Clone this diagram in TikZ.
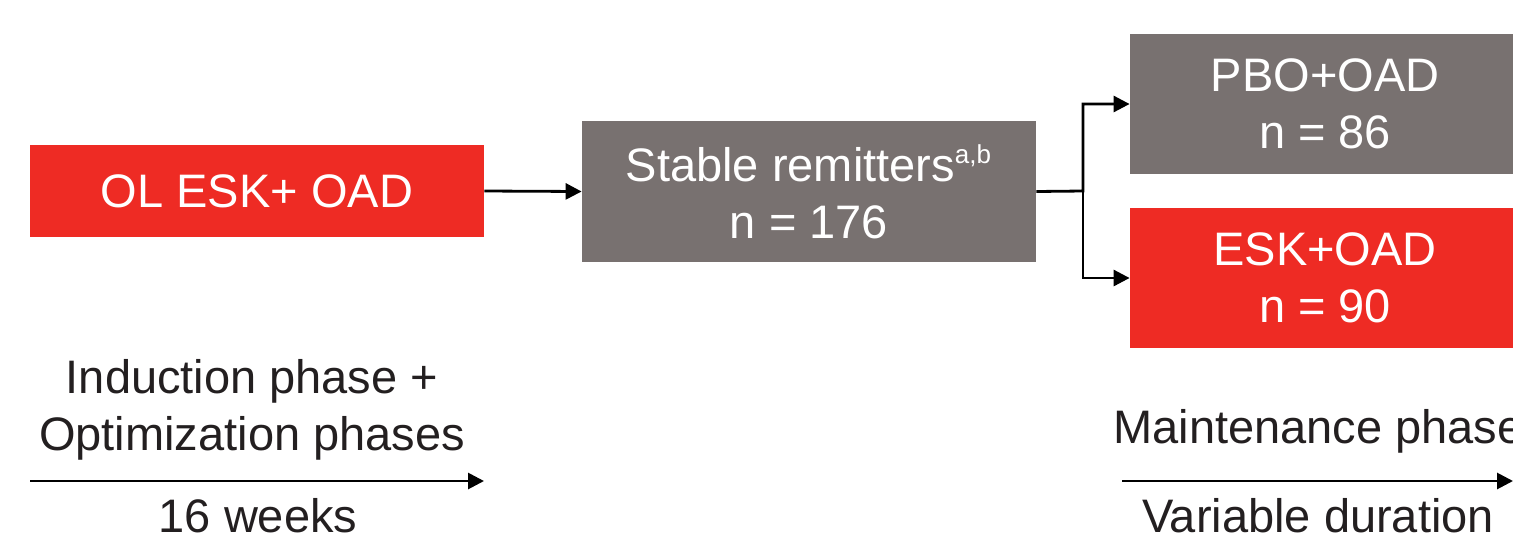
\documentclass[tikz,border=0pt]{standalone}
\usepackage{fontspec}
\setmainfont{Liberation Sans}
\usetikzlibrary{arrows.meta}
\definecolor{boxred}{HTML}{EE2B24}
\definecolor{boxgray}{HTML}{787170}
\definecolor{txt}{HTML}{231F20}
\tikzset{
  box/.style={rectangle, inner sep=0pt, align=center, text=white,
    font=\fontsize{23.5}{28.5}\selectfont},
  redbox/.style={box, fill=boxred},
  graybox/.style={box, fill=boxgray},
  conn/.style={line width=1.4pt, black, -{Triangle[length=8pt,width=8pt]}},
  lbl/.style={inner sep=0pt, align=center, text=txt,
    font=\fontsize{23.5}{28.5}\selectfont},
}
\begin{document}
\begin{tikzpicture}[x=0.5pt,y=-0.5pt]
\useasboundingbox (0,0) rectangle (1513,542);
\clip (0,0) rectangle (1513,542);
\node[redbox, minimum width=227pt, minimum height=46pt] (ol) at (257,191) {OL ESK+ OAD};
\node[graybox, minimum width=227pt, minimum height=70.5pt] (sr) at (809,191.5)
  {Stable remitters\textsuperscript{\fontsize{13}{13}\selectfont a,b}\\n = 176};
\node[graybox, minimum width=195pt, minimum height=70pt] (pbo) at (1325,104) {PBO+OAD\\n = 86};
\node[redbox, minimum width=195pt, minimum height=70pt] (esk) at (1325,278) {ESK+OAD\\n = 90};
\draw[conn] (ol.east) -- (sr.west);
\coordinate (br) at (1083,191);
\draw[conn] (sr.east) -- (br) |- (pbo.west);
\draw[conn] (br) |- (esk.west);
% bottom left
\node[lbl] (ind) at (252,410) {Induction phase +\\Optimization phases};
\coordinate (la) at (30,481);
\coordinate (lb) at (484,481);
\draw[conn] (la) -- (lb);
\node[lbl] (wk) at (258,516) {16 weeks};
% bottom right
\node[lbl, anchor=base west] (mp) at (1113,443) {Maintenance phase};
\coordinate (ra) at (1122,481);
\coordinate (rb) at (1513,481);
\draw[conn] (ra) -- (rb);
\node[lbl] (vd) at (1318,516) {Variable duration};
\end{tikzpicture}
\end{document}
